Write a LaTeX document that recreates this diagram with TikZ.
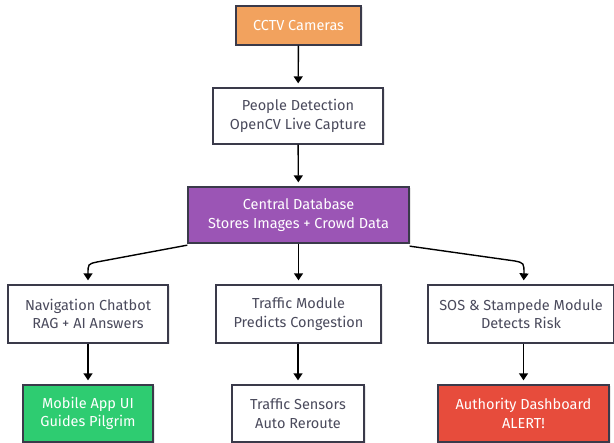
\documentclass[tikz,border=0pt]{standalone}
\usepackage{fontspec}
\setmainfont{Fira Sans}
\usetikzlibrary{arrows.meta,shadows}
\definecolor{txt}{HTML}{4A4A5C}
\definecolor{bord}{HTML}{3A3A4A}
\definecolor{orng}{HTML}{F2A25E}
\definecolor{purp}{HTML}{9B55B5}
\definecolor{grn}{HTML}{2ECC71}
\definecolor{redc}{HTML}{E74C3C}
\tikzset{
  box/.style={draw=bord, line width=1.3pt, fill=white, text=txt, align=center,
    inner sep=0pt, font=\fontsize{14.5}{18.5}\selectfont,
    drop shadow={opacity=0.18, shadow xshift=1.5pt, shadow yshift=-1.5pt}},
  cbox/.style={box, text=white},
  arr/.style={line width=1.4pt, -{Triangle[width=9pt,length=7pt]}, shorten >=4pt}
}
\begin{document}
\begin{tikzpicture}[x=1pt,y=-1pt]
\useasboundingbox (0,0) rectangle (614,443);
\node[cbox, fill=orng, minimum width=125pt, minimum height=39pt] (cctv) at (298.5,25.5) {CCTV Cameras};
\node[box, minimum width=170pt, minimum height=56pt] (people) at (298,116) {People Detection\\OpenCV Live Capture};
\node[cbox, fill=purp, minimum width=221pt, minimum height=56pt] (central) at (298.5,215) {Central Database\\Stores Images + Crowd Data};
\node[box, minimum width=160pt, minimum height=58pt] (nav) at (88,314) {Navigation Chatbot\\RAG + AI Answers};
\node[box, minimum width=165pt, minimum height=58pt] (traffic) at (298.5,314) {Traffic Module\\Predicts Congestion};
\node[box, minimum width=186pt, minimum height=58pt] (sos) at (521,314) {SOS \& Stampede Module\\Detects Risk};
\node[cbox, fill=grn, minimum width=130pt, minimum height=57pt] (mobile) at (88,413.5) {Mobile App UI\\Guides Pilgrim};
\node[box, minimum width=132pt, minimum height=57pt] (sensors) at (298,413.5) {Traffic Sensors\\Auto Reroute};
\node[cbox, fill=redc, minimum width=171pt, minimum height=57pt] (auth) at (523.5,413.5) {Authority Dashboard\\ALERT!};

\coordinate (lstart) at ([yshift=-1.5pt]central.south west);
\coordinate (rstart) at ([yshift=-2.5pt]central.south east);
\coordinate (lbend) at (97,262);
\coordinate (rbend) at (515,261);

\draw[arr] (cctv) -- (people);
\draw[arr] (people) -- (central);
\draw[arr] (central) -- (traffic);
\draw[arr] (lstart) -- (lbend) .. controls (88,264) .. (88,274) -- (nav.north);
\draw[arr] (rstart) -- (rbend) .. controls (524,263) .. (524,274) -- (sos.north -| auth.north);
\draw[arr] (nav.south) -- (mobile.north);
\draw[arr] (traffic.south -| sensors.north) -- (sensors.north);
\draw[arr] (sos.south -| auth.north) -- (auth.north);
\end{tikzpicture}
\end{document}
